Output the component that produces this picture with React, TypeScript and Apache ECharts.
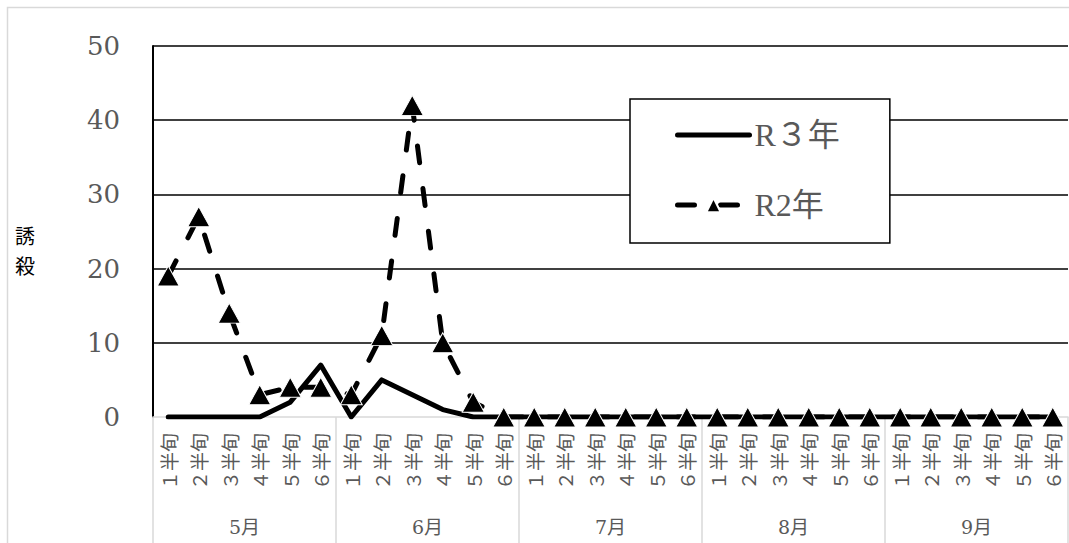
import React, { useEffect, useRef } from "react";
import * as echarts from "echarts";

const months = ["5月", "6月", "7月", "8月", "9月"];
const halfLabels = ["１半旬", "２半旬", "３半旬", "４半旬", "５半旬", "６半旬"];
const seriesNames = ["R３年", "R2年"];
const r3Values = [
  0, 0, 0, 0, 2, 7,
  0, 5, 3, 1, 0, 0,
  0, 0, 0, 0, 0, 0,
  0, 0, 0, 0, 0, 0,
  0, 0, 0, 0, 0, 0,
];
const r2Values = [
  19, 27, 14, 3, 4, 4,
  3, 11, 42, 10, 2, 0,
  0, 0, 0, 0, 0, 0,
  0, 0, 0, 0, 0, 0,
  0, 0, 0, 0, 0, 0,
];
const yMin = 0;
const yMax = 50;
const yInterval = 10;
const yAxisTitle = ["誘", "殺"];

const categories: string[] = [];
months.forEach(() => halfLabels.forEach((h) => categories.push(h)));

const SERIF = "'DejaVu Serif', 'Noto Sans CJK JP', serif";
const LSERIF = "'Liberation Serif', 'Noto Sans CJK JP', serif";
const CJK = "'Noto Sans CJK JP', sans-serif";
const GRAY = "#595959";
const DASH = [17, 26];

export default function App() {
  const ref = useRef<HTMLDivElement>(null);
  useEffect(() => {
    if (!ref.current) return;
    const chart = echarts.init(ref.current, undefined, { renderer: "svg" });
    chart.setOption({
      animation: false,
      backgroundColor: "#ffffff",
      grid: { left: 153, right: 1, top: 46, bottom: 126, containLabel: false },
      legend: {
        left: 630,
        top: 99,
        orient: "vertical",
        backgroundColor: "#ffffff",
        borderColor: "#000000",
        borderWidth: 1.5,
        borderRadius: 0,
        padding: [20, 50, 22, 45],
        itemGap: 38,
        itemWidth: 72,
        itemHeight: 18,
        textStyle: { fontFamily: LSERIF, fontSize: 32, color: GRAY },
        lineStyle: { width: 5, cap: "round" },
        data: [
          { name: seriesNames[0], itemStyle: { opacity: 0 } },
          { name: seriesNames[1], lineStyle: { type: DASH, width: 5, cap: "round" } },
        ],
      },
      xAxis: [
        {
          type: "category",
          data: categories,
          boundaryGap: true,
          position: "bottom",
          axisLine: { show: true, lineStyle: { color: "#d9d9d9", width: 1.5 } },
          axisTick: { show: false },
          axisLabel: {
            interval: 0,
            rotate: 90,
            margin: 16,
            fontFamily: CJK,
            fontSize: 19,
            color: GRAY,
          },
          splitLine: { show: false },
        },
        {
          type: "category",
          data: months,
          boundaryGap: true,
          position: "bottom",
          axisLine: { show: false },
          axisTick: {
            show: true,
            interval: 0,
            length: 126,
            lineStyle: { color: "#d9d9d9", width: 1.5 },
          },
          axisLabel: {
            interval: 0,
            margin: 100,
            fontFamily: SERIF,
            fontSize: 19,
            color: GRAY,
          },
          splitLine: { show: false },
        },
      ],
      yAxis: {
        type: "value",
        min: yMin,
        max: yMax,
        interval: yInterval,
        axisLine: { show: true, lineStyle: { color: "#000000", width: 2 } },
        axisTick: { show: false },
        axisLabel: { margin: 33, fontFamily: SERIF, fontSize: 26, color: GRAY },
        splitLine: {
          show: true,
          showMinLine: false,
          lineStyle: { color: "#000000", width: 1.5 },
        },
      },
      graphic: [
        {
          type: "rect",
          z: -10,
          shape: { x: 7.5, y: 7.5, width: 1200, height: 1000 },
          style: { fill: "none", stroke: "#d9d9d9", lineWidth: 1.5 },
        },
        {
          type: "text",
          left: 15,
          top: 225,
          style: { text: yAxisTitle[0], font: `20px ${CJK}`, fill: "#000000" },
        },
        {
          type: "text",
          left: 15,
          top: 255,
          style: { text: yAxisTitle[1], font: `20px ${CJK}`, fill: "#000000" },
        },
      ],
      series: [
        {
          name: seriesNames[0],
          type: "line",
          xAxisIndex: 0,
          data: r3Values,
          symbol: "none",
          lineStyle: { color: "#000000", width: 5, cap: "round", join: "round" },
          itemStyle: { color: "#000000" },
        },
        {
          name: seriesNames[1],
          type: "line",
          xAxisIndex: 0,
          data: r2Values,
          symbol: "triangle",
          symbolSize: [22, 20],
          itemStyle: { color: "#000000", borderColor: "#ffffff", borderWidth: 1 },
          lineStyle: {
            color: "#000000",
            width: 5,
            type: DASH,
            cap: "round",
            join: "round",
          },
        },
      ],
    });
    return () => chart.dispose();
  }, []);
  return (
    <div
      ref={ref}
      style={{ position: "absolute", left: 0, top: 0, width: 1069, height: 543 }}
    />
  );
}
